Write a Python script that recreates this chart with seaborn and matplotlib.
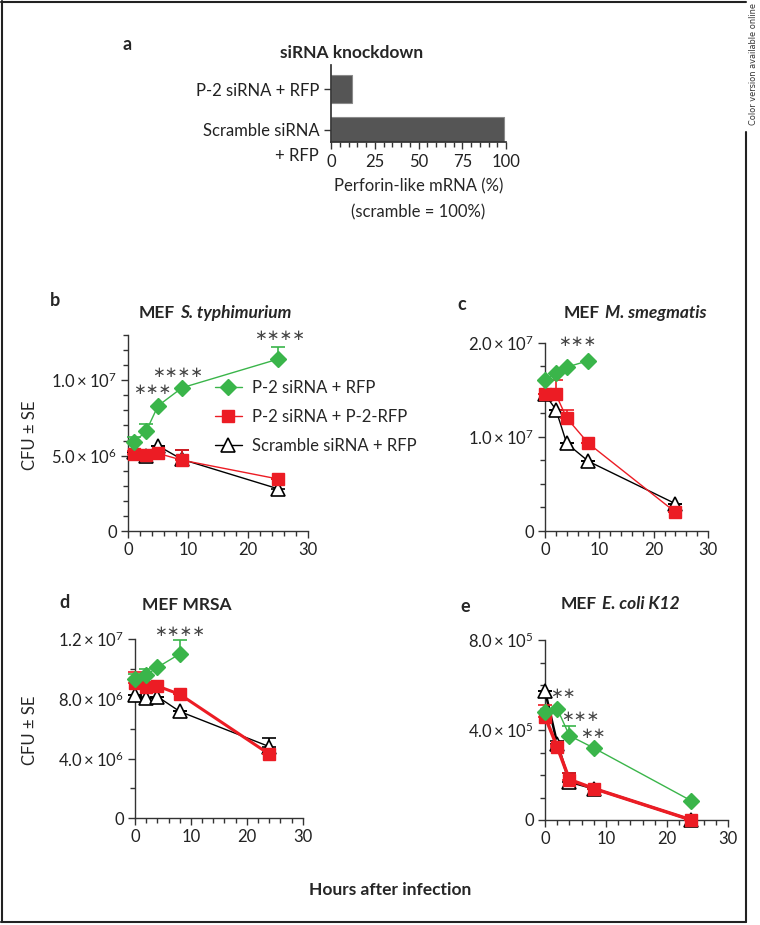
import matplotlib.pyplot as plt
from matplotlib.lines import Line2D
from matplotlib.ticker import MultipleLocator
import matplotlib.transforms as mtransforms
import numpy as np
import seaborn as sns

# ---- data ----
# a: knockdown
kd_groups = ['P-2 siRNA + RFP', 'Scramble siRNA\n+ RFP']
kd_mrna = [12, 99]

# b: MEF S. typhimurium
b_hours = [1, 3, 5, 9, 25]
b_p2 = [5.9e6, 6.6e6, 8.3e6, 9.5e6, 1.14e7]
b_p2_err = [0.35e6, 0.5e6, 0, 0, 0.8e6]
b_rescue = [5.1e6, 5.05e6, 5.15e6, 4.7e6, 3.45e6]
b_rescue_err = [0.2e6, 0.1e6, 0.1e6, 0.7e6, 0]
b_scr = [5.25e6, 5.0e6, 5.65e6, 4.75e6, 2.8e6]
b_scr_err = [0, 0, 0, 0.65e6, 0.65e6]

# c: MEF M. smegmatis
c_hours = [0, 2, 4, 8, 24]
c_p2 = [1.6e7, 1.68e7, 1.74e7, 1.81e7]
c_p2_err = [0, 0, 0, 0]
c_rescue = [1.45e7, 1.45e7, 1.2e7, 9.3e6, 2.0e6]
c_rescue_err = [0, 1.5e6, 0.9e6, 0, 0]
c_scr = [1.45e7, 1.29e7, 9.3e6, 7.4e6, 2.9e6]
c_scr_err = [0, 0, 0, 0, 0]

# d: MEF MRSA
d_hours = [0, 2, 4, 8, 24]
d_p2 = [9.35e6, 9.6e6, 1.01e7, 1.1e7]
d_p2_err = [0.3e6, 0.4e6, 0, 0.9e6]
d_rescue = [9.05e6, 8.8e6, 8.85e6, 8.3e6, 4.3e6]
d_rescue_err = [0.75e6, 0, 0, 0, 0]
d_scr = [8.25e6, 8.05e6, 8.15e6, 7.15e6, 4.8e6]
d_scr_err = [0, 0, 0, 0, 0.55e6]

# e: MEF E. coli K12
e_hours = [0, 2, 4, 8, 24]
e_p2 = [4.8e5, 4.95e5, 3.75e5, 3.2e5, 0.85e5]
e_p2_err = [0, 0, 0.45e5, 0, 0]
e_rescue = [4.6e5, 3.25e5, 1.8e5, 1.4e5, 0]
e_rescue_err = [0.5e5, 0.1e5, 0.3e5, 0.1e5, 0]
e_scr = [5.75e5, 3.4e5, 1.7e5, 1.4e5, 0]
e_scr_err = [0, 0.1e5, 0.4e5, 0.1e5, 0]

series_names = ['P-2 siRNA + RFP', 'P-2 siRNA + P-2-RFP', 'Scramble siRNA + RFP']

GREEN = '#3ab54a'
RED = '#ec1c24'
AXC = '#333333'

sns.set_theme(style='ticks')
plt.rcParams['font.family'] = ['Lato', 'DejaVu Sans']
plt.rcParams['mathtext.fontset'] = 'custom'
plt.rcParams['mathtext.rm'] = 'Lato'
plt.rcParams['mathtext.it'] = 'Lato:italic'
plt.rcParams['mathtext.bf'] = 'Lato:bold'

W, H = 760, 925
fig = plt.figure(figsize=(W / 100, H / 100), dpi=100)


def box(l, r, t, b):
    return [l / W, 1 - b / H, (r - l) / W, (b - t) / H]


def draw_series(ax, hours, vals, errs, color, marker, lw, mfc, ms, mew, z):
    hours = hours[:len(vals)]
    ax.errorbar(hours, vals, yerr=[np.zeros(len(errs)), errs], fmt='none',
                ecolor=color, elinewidth=1.2, capsize=5, capthick=1.2,
                zorder=z, clip_on=False)
    sns.lineplot(x=hours, y=vals, ax=ax, color=color, lw=lw, marker=marker,
                 markersize=ms, markerfacecolor=mfc, markeredgecolor=color,
                 markeredgewidth=mew, zorder=z, clip_on=False, legend=False)


def draw_panel(ax, hours, p2, p2e, res, rese, scr, scre, res_lw=1.0, scr_lw=1.0):
    draw_series(ax, hours, scr, scre, 'black', '^', scr_lw, 'white', 10, 1.2, 3)
    draw_series(ax, hours, res, rese, RED, 's', res_lw, RED, 9, 1, 4)
    draw_series(ax, hours, p2, p2e, GREEN, 'D', 1.0, GREEN, 8.5, 1, 5)


def style_axes(ax, ytop, ymajor, ylabels, yminor):
    sns.despine(ax=ax)
    ax.set_xlim(0, 30)
    ax.set_ylim(0, ytop)
    ax.xaxis.set_major_locator(MultipleLocator(10))
    ax.xaxis.set_minor_locator(MultipleLocator(2))
    ax.set_yticks(ymajor)
    ax.set_yticklabels(ylabels)
    ax.yaxis.set_minor_locator(MultipleLocator(yminor))
    ax.tick_params(which='major', direction='out', length=5, width=1,
                   color=AXC, labelsize=12, labelcolor='#222222', pad=3)
    ax.tick_params(which='minor', direction='out', length=3.5, width=1, color=AXC)
    for s in ['left', 'bottom']:
        ax.spines[s].set_color(AXC)
        ax.spines[s].set_linewidth(1)
    ax.set_xlabel('')
    ax.set_ylabel('')


def sci(m, e):
    return r'$%s\times 10^{%d}$' % (m, e)


def stars(ax, s, x, y):
    ax.text(x, y, '\u2217' * s, ha='center', va='center', fontsize=11,
            color='#444444', family=['DejaVu Sans'], clip_on=False)


# ---- panel a ----
ax_a = fig.add_axes(box(331, 506, 65, 142))
sns.barplot(x=kd_mrna, y=kd_groups, orient='h', color='#555555', width=0.66,
            edgecolor='#8a8a8a', linewidth=0.8, ax=ax_a)
ax_a.set_xlim(0, 100)
ax_a.set_ylim(1.29, -0.585)
sns.despine(ax=ax_a)
ax_a.xaxis.set_major_locator(MultipleLocator(25))
ax_a.xaxis.set_minor_locator(MultipleLocator(5))
ax_a.tick_params(which='major', direction='out', length=5, width=1,
                 color=AXC, labelsize=12, labelcolor='#222222')
ax_a.tick_params(which='minor', direction='out', length=3.5, width=1, color=AXC)
for s in ['left', 'bottom']:
    ax_a.spines[s].set_color(AXC)
scr_label = ax_a.get_yticklabels()[1]
scr_label.set_linespacing(1.75)
scr_label.set_transform(scr_label.get_transform() +
                        mtransforms.ScaledTranslation(0, -7 / 100, fig.dpi_scale_trans))
ax_a.set_xlabel('Perforin-like mRNA (%)\n(scramble = 100%)', fontsize=12,
                linespacing=1.75, labelpad=6)
ax_a.set_ylabel('')

# ---- panel b ----
ax_b = fig.add_axes(box(128, 308, 335, 531))
draw_panel(ax_b, b_hours, b_p2, b_p2_err, b_rescue, b_rescue_err, b_scr, b_scr_err)
style_axes(ax_b, 1.3e7, [0, 5e6, 1e7], ['0', sci('5.0', 6), sci('1.0', 7)], 1e6)
stars(ax_b, 3, 4.0, 9.4e6)
stars(ax_b, 4, 8.3, 1.053e7)
stars(ax_b, 4, 25.2, 1.298e7)

handles = [
    Line2D([], [], color=GREEN, lw=1, marker='D', ms=8.5, mfc=GREEN, mec=GREEN),
    Line2D([], [], color=RED, lw=1, marker='s', ms=9, mfc=RED, mec=RED),
    Line2D([], [], color='black', lw=1, marker='^', ms=10, mfc='white', mec='black', mew=1.2),
]
ax_b.legend(handles, series_names, loc='upper left',
            bbox_to_anchor=(215 / W, 1 - 380 / H), bbox_transform=fig.transFigure,
            frameon=False, fontsize=12, handlelength=1.6, handletextpad=0.6,
            labelspacing=0.78, borderpad=0, borderaxespad=0, numpoints=1)

# ---- panel c ----
ax_c = fig.add_axes(box(545, 708, 342.7, 531))
draw_panel(ax_c, c_hours, c_p2, c_p2_err, c_rescue, c_rescue_err, c_scr, c_scr_err)
style_axes(ax_c, 2e7, [0, 1e7, 2e7], ['0', sci('1.0', 7), sci('2.0', 7)], 2.5e6)
stars(ax_c, 3, 5.9, 2.01e7)

# ---- panel d ----
ax_d = fig.add_axes(box(135, 302.7, 639, 818.3))
draw_panel(ax_d, d_hours, d_p2, d_p2_err, d_rescue, d_rescue_err, d_scr, d_scr_err,
           res_lw=2.2)
style_axes(ax_d, 1.2e7, [0, 4e6, 8e6, 1.2e7],
           ['0', sci('4.0', 6), sci('8.0', 6), sci('1.2', 7)], 2e6)
stars(ax_d, 4, 8.05, 1.248e7)

# ---- panel e ----
ax_e = fig.add_axes(box(545, 728, 640, 820))
draw_panel(ax_e, e_hours, e_p2, e_p2_err, e_rescue, e_rescue_err, e_scr, e_scr_err,
           res_lw=2.5, scr_lw=1.8)
style_axes(ax_e, 8e5, [0, 4e5, 8e5], ['0', sci('4.0', 5), sci('8.0', 5)], 1e5)
stars(ax_e, 2, 3.0, 5.63e5)
stars(ax_e, 3, 5.75, 4.62e5)
stars(ax_e, 2, 7.9, 3.85e5)

# ---- labels and titles ----
fig.canvas.draw()
renderer = fig.canvas.get_renderer()


def mixed_title(xc, y, parts, size=12.5):
    texts = [fig.text(0, 1 - y / H, s, fontsize=size, fontweight='bold',
                      fontstyle=st, va='center', ha='left') for s, st in parts]
    gap = 0.3 * size * 100 / 72
    widths = [t.get_window_extent(renderer).width for t in texts]
    cur = xc - (sum(widths) + gap * (len(texts) - 1)) / 2
    for t, w in zip(texts, widths):
        t.set_x(cur / W)
        cur += w + gap


fig.text(352 / W, 1 - 53 / H, 'siRNA knockdown', fontsize=12.5, fontweight='bold',
         ha='center', va='center')
mixed_title(215, 313, [('MEF', 'normal'), ('S. typhimurium', 'italic')])
mixed_title(635, 313, [('MEF', 'normal'), ('M. smegmatis', 'italic')])
mixed_title(187, 605, [('MEF MRSA', 'normal')])
mixed_title(620, 604, [('MEF', 'normal'), ('E. coli K12', 'italic')])

for letter, x, y in [('a', 127, 45), ('b', 55, 300), ('c', 462, 305),
                     ('d', 65, 603), ('e', 465, 607)]:
    fig.text(x / W, 1 - y / H, letter, fontsize=13, fontweight='bold',
             ha='center', va='center')

for y in [435, 730]:
    fig.text(30 / W, 1 - y / H, 'CFU \u00b1 SE', fontsize=12, rotation=90,
             ha='center', va='center')

fig.text(390 / W, 1 - 890 / H, 'Hours after infection', fontsize=12.5,
         fontweight='bold', ha='center', va='center')

# frame and side note
frame_kw = dict(color='#222222', lw=1.5, transform=fig.transFigure)
fig.add_artist(Line2D([2 / W, 2 / W], [1 - 1 / H, 1 - 922 / H], **frame_kw))
fig.add_artist(Line2D([1 / W, 746 / W], [1 - 1.5 / H, 1 - 1.5 / H], **frame_kw))
fig.add_artist(Line2D([1 / W, 746 / W], [1 - 922 / H, 1 - 922 / H], **frame_kw))
fig.add_artist(Line2D([746 / W, 746 / W], [1 - 922 / H, 1 - 132 / H], **frame_kw))
fig.text(753 / W, 1 - 64 / H, 'Color version available online', fontsize=6.6,
         rotation=90, ha='center', va='center', color='#333333',
         family=['DejaVu Sans'], fontstretch='condensed')

fig.savefig('out.png', dpi=100)
